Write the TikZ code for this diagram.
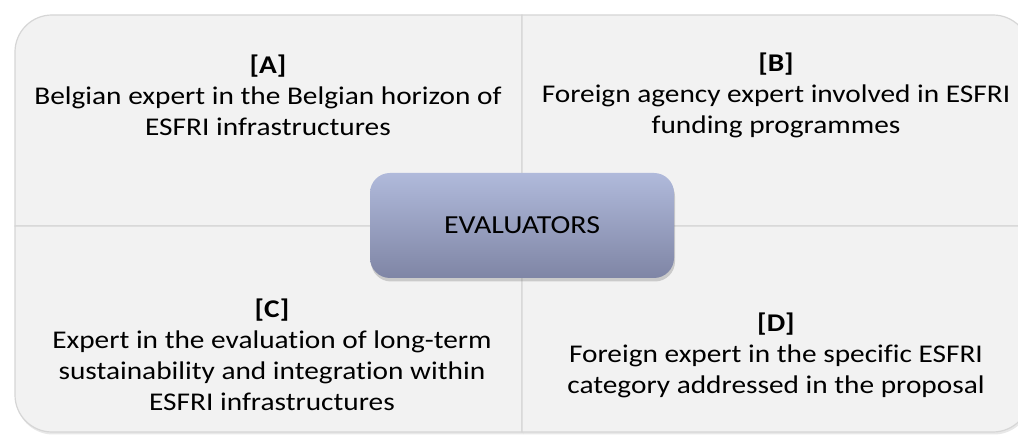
\documentclass[tikz,border=0pt]{standalone}
\usepackage{fontspec}
\setmainfont{Carlito}[Ligatures=NoCommon, FakeStretch=1.15]
\usepackage{tikz}
\usetikzlibrary{shadows}
\usetikzlibrary{positioning}
\definecolor{quadfill}{RGB}{242,242,242}
\definecolor{quadline}{RGB}{214,214,214}
\definecolor{evaltop}{RGB}{176,186,219}
\definecolor{evalbot}{RGB}{127,133,165}
\tikzset{
    quadrant/.style={fill=quadfill, draw=quadline, line width=1.2pt,
        drop shadow={shadow xshift=1pt, shadow yshift=-2.5pt, opacity=.18}},
    quadtext/.style={align=center, inner sep=0pt, text=black,
        font=\fontsize{25.5}{31}\selectfont},
    evalbox/.style={rounded corners=20pt, top color=evaltop, bottom color=evalbot,
        minimum width=304pt, minimum height=105pt, inner sep=0pt,
        font=\fontsize{26}{31}\selectfont,
        drop shadow={shadow xshift=1pt, shadow yshift=-3.5pt, opacity=.35}},
}
\begin{document}
\begin{tikzpicture}[x=1pt, y=1pt]
    \clip (0,0) rectangle (1018,435);
    \fill[white] (0,0) rectangle (1018,435);
    % four quadrants, only the outer corner is rounded
    \path[quadrant] (522,209) -- (15,209) -- (15,383)
        arc[start angle=180, end angle=90, radius=37] -- (522,420) -- cycle;
    \path[quadrant] (522,209) -- (522,420) -- (993,420)
        arc[start angle=90, end angle=0, radius=37] -- (1030,209) -- cycle;
    \path[quadrant] (522,209) -- (15,209) -- (15,40)
        arc[start angle=180, end angle=270, radius=37] -- (522,3) -- cycle;
    \path[quadrant] (522,209) -- (1030,209) -- (1030,40)
        arc[start angle=0, end angle=-90, radius=37] -- (522,3) -- cycle;
    \node[quadtext] (expA) at (268,340) {\textbf{[A]}\\Belgian expert in the Belgian horizon of\\ESFRI infrastructures};
    \node[quadtext] (expB) at (776,340) {\textbf{[B]}\\Foreign agency expert involved in ESFRI\\funding programmes};
    \node[quadtext] (expC) at (272,80) {\textbf{[C]}\\Expert in the evaluation of long-term\\sustainability and integration within\\ESFRI infrastructures};
    \node[quadtext] (expD) at (776,80) {\textbf{[D]}\\Foreign expert in the specific ESFRI\\category addressed in the proposal};
    % centre box
    \node[evalbox] (eval) at (522,209.5) {EVALUATORS};
\end{tikzpicture}
\end{document}
